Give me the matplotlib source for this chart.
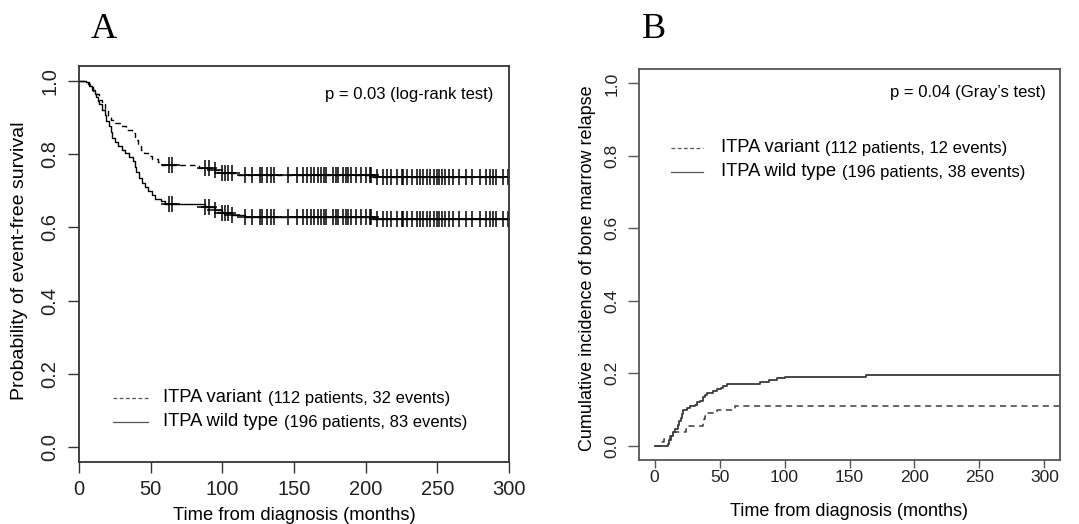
import matplotlib.pyplot as plt
import numpy as np

plt.rcParams['font.family'] = ['Liberation Sans', 'DejaVu Sans']

# ---- Panel A: event-free survival (Kaplan-Meier) ----
efs_var_t = [0, 6, 8, 10, 12, 14, 16, 18, 20, 22, 25, 29, 33, 37, 39, 41, 43, 45,
             48, 51, 55, 58, 84, 92, 100, 110, 205, 300]
efs_var_s = [1.0, 0.991, 0.982, 0.973, 0.964, 0.946, 0.937, 0.920, 0.902, 0.893,
             0.884, 0.875, 0.866, 0.857, 0.839, 0.821, 0.812, 0.803, 0.794, 0.785,
             0.777, 0.770, 0.763, 0.756, 0.749, 0.743, 0.737, 0.737]

efs_wt_t = [0, 5, 7, 9, 11, 12, 13, 14, 16, 18, 19, 21, 22, 23, 25, 27, 30, 32, 35,
            38, 39, 40, 42, 44, 46, 48, 51, 53, 57, 60, 88, 95, 100, 107, 116, 205, 300]
efs_wt_s = [1.0, 0.995, 0.985, 0.975, 0.965, 0.955, 0.945, 0.935, 0.920, 0.905,
            0.890, 0.875, 0.860, 0.845, 0.832, 0.822, 0.812, 0.802, 0.792, 0.780,
            0.765, 0.750, 0.735, 0.720, 0.710, 0.698, 0.688, 0.678, 0.672, 0.663,
            0.655, 0.648, 0.640, 0.633, 0.627, 0.622, 0.622]

# censoring times (months), same pattern visible on both curves
censor_var = [63, 65, 88, 91, 95, 100, 102, 104, 107, 116, 121, 126, 128, 131, 134,
              136, 146, 152, 156, 159, 162, 164, 167, 169, 171, 172, 177, 179, 181,
              184, 186, 188, 190, 193, 197, 200, 203, 204, 208, 212, 215, 218, 222,
              225, 226, 229, 232, 236, 238, 240, 243, 245, 248, 250, 251, 253, 255,
              258, 261, 265, 270, 274, 280, 284, 287, 289, 291, 296, 299]
censor_wt = [63, 65, 88, 91, 95, 100, 102, 104, 107, 116, 121, 126, 128, 131, 134,
             136, 146, 152, 156, 159, 162, 164, 167, 169, 171, 172, 177, 179, 181,
             184, 186, 188, 190, 193, 197, 200, 203, 204, 208, 212, 215, 218, 222,
             225, 226, 229, 232, 236, 238, 240, 243, 245, 248, 250, 251, 253, 255,
             258, 261, 265, 270, 274, 280, 284, 287, 289, 291, 296, 299]

# ---- Panel B: cumulative incidence of bone marrow relapse ----
ci_var_t = [0, 6, 7, 12, 14, 24, 25, 37, 38, 39, 40, 48, 62, 312]
ci_var_c = [0.0, 0.009, 0.018, 0.027, 0.036, 0.045, 0.054, 0.063, 0.072, 0.081,
            0.090, 0.099, 0.108, 0.108]

ci_wt_t = [0, 10, 11, 13, 14, 16, 18, 19, 20, 21, 22, 25, 27, 31, 33, 35, 37, 39, 40,
           45, 48, 51, 53, 56, 81, 88, 94, 100, 163, 312]
ci_wt_c = [0.0, 0.005, 0.015, 0.026, 0.036, 0.046, 0.057, 0.067, 0.077, 0.088, 0.098,
           0.103, 0.108, 0.113, 0.119, 0.124, 0.134, 0.139, 0.144, 0.150, 0.155,
           0.160, 0.165, 0.170, 0.176, 0.181, 0.186, 0.190, 0.196, 0.196]

xticks = [0, 50, 100, 150, 200, 250, 300]
yticks = [0.0, 0.2, 0.4, 0.6, 0.8, 1.0]
ytick_labels = ['0.0', '0.2', '0.4', '0.6', '0.8', '1.0']


def value_at(t, times, vals):
    idx = np.searchsorted(times, t, side='right') - 1
    return np.asarray(vals)[idx]


W, H = 1079, 524
fig = plt.figure(figsize=(W / 100, H / 100), dpi=100)
axA = fig.add_axes([79 / W, 1 - 462 / H, 430 / W, 396 / H])
axB = fig.add_axes([639 / W, 1 - 460 / H, 421 / W, 391 / H])

# ---- A ----
axA.step(efs_var_t, efs_var_s, where='post', color='black', lw=1.0, ls=(0, (4, 3)))
axA.step(efs_wt_t, efs_wt_s, where='post', color='black', lw=1.0)
axA.plot(censor_var, value_at(censor_var, efs_var_t, efs_var_s), ls='none',
         marker='+', ms=12, mew=1.1, color='black')
axA.plot(censor_wt, value_at(censor_wt, efs_wt_t, efs_wt_s), ls='none',
         marker='+', ms=12, mew=1.1, color='black')
axA.set_xlim(0, 300)
axA.set_ylim(-0.04, 1.04)

# ---- B ----
axB.step(ci_var_t, ci_var_c, where='post', color='#3a3a3a', lw=1.1, ls=(0, (4, 3)))
axB.step(ci_wt_t, ci_wt_c, where='post', color='#3a3a3a', lw=1.3)
axB.set_xlim(-12, 312)
axB.set_ylim(-0.04, 1.04)

for ax, sc, fs in [(axA, '#333333', 14.5), (axB, '#555555', 12.5)]:
    for sp in ax.spines.values():
        sp.set_color(sc)
        sp.set_linewidth(1.3)
    ax.set_xticks(xticks)
    ax.set_yticks(yticks)
    ax.set_yticklabels(ytick_labels, rotation=90, va='center')
    ax.tick_params(colors='#222222', labelsize=fs, width=1.0)
    ax.tick_params(axis='both', color=sc)

axA.tick_params(axis='x', length=8, pad=5)
axA.tick_params(axis='y', length=8, pad=6)
axB.tick_params(axis='x', length=6, pad=1)
axB.tick_params(axis='y', length=8, pad=6)

axA.set_xlabel('Time from diagnosis (months)', fontsize=13.2, va='center')
axA.xaxis.set_label_coords(0.5, (462 - 515) / 396)
axA.set_ylabel('Probability of event-free survival', fontsize=14, va='center')
axA.yaxis.set_label_coords((20 - 79) / 430, 0.508)

axB.set_xlabel('Time from diagnosis (months)', fontsize=13, va='center')
axB.xaxis.set_label_coords(0.5, (460 - 512) / 391)
axB.set_ylabel('Cumulative incidence of bone marrow relapse', fontsize=13, va='center')
axB.yaxis.set_label_coords((587 - 639) / 421, 0.49)

axA.text(0.963, 0.929, 'p = 0.03 (log-rank test)', transform=axA.transAxes,
         ha='right', va='center', fontsize=12)
axB.text(0.967, 0.939, 'p = 0.04 (Gray\u2019s test)', transform=axB.transAxes,
         ha='right', va='center', fontsize=12)

# legends drawn by hand: group name slightly larger than the counts
legA = [('ITPA variant', '(112 patients, 32 events)', (0, (3, 2))),
        ('ITPA wild type', '(196 patients, 83 events)', '-')]
legB = [('ITPA variant', '(112 patients, 12 events)', (0, (3, 2))),
        ('ITPA wild type', '(196 patients, 38 events)', '-')]

fig.canvas.draw()
renderer = fig.canvas.get_renderer()


def draw_legend(ax, entries, x0, x1, xt, rows):
    for (name, counts, ls), yr in zip(entries, rows):
        ax.plot([x0, x1], [yr, yr], transform=ax.transAxes, color='#555555',
                lw=0.9, ls=ls, clip_on=False)
        t = ax.text(xt, yr, name, transform=ax.transAxes, ha='left', va='center',
                    fontsize=13.2)
        bb = t.get_window_extent(renderer)
        xd = bb.x1 + 6
        xa = ax.transAxes.inverted().transform((xd, 0))[0]
        ax.text(xa, yr, counts, transform=ax.transAxes, ha='left', va='center',
                fontsize=12)


draw_legend(axA, legA, (113 - 79) / 430, (148 - 79) / 430, (163 - 79) / 430,
            [(462 - 398) / 396, (462 - 422) / 396])
draw_legend(axB, legB, (671 - 639) / 421, (703 - 639) / 421, (721 - 639) / 421,
            [(460 - 148) / 391, (460 - 172) / 391])

fig.text(104 / W, 1 - 29 / H, 'A', family='Liberation Serif', fontsize=26,
         ha='center', va='center')
fig.text(654 / W, 1 - 29 / H, 'B', family='Liberation Serif', fontsize=26,
         ha='center', va='center')

fig.savefig('out.png', dpi=100)
